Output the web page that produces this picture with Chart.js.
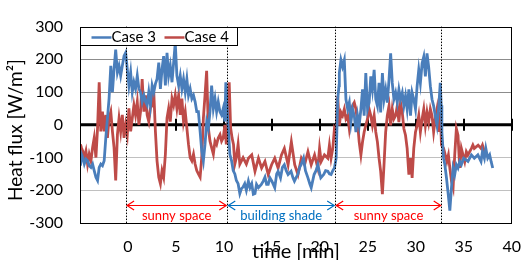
<!DOCTYPE html>
<html><head><meta charset="utf-8">
<script src="https://cdn.jsdelivr.net/npm/chart.js@4"></script>
<style>html,body{margin:0;padding:0;background:#fff}#c{display:block}</style>
</head><body>
<canvas id="c" width="527" height="260"></canvas>
<script>
const case3Time = [-4.95,-4.85,-4.72,-4.55,-4.38,-4.21,-4.04,-3.86,-3.69,-3.52,-3.34,-3.17,-3.0,-2.83,-2.66,-2.48,-2.31,-2.14,-1.97,-1.79,-1.62,-1.45,-1.28,-1.10,-0.93,-0.76,-0.59,-0.41,-0.24,-0.07,0.10,0.28,0.45,0.62,0.79,0.97,1.14,1.31,1.48,1.66,1.83,2.0,2.17,2.34,2.52,2.69,2.86,3.03,3.21,3.38,3.55,3.72,3.90,4.07,4.24,4.41,4.59,4.76,4.93,5.10,5.28,5.45,5.62,5.79,5.97,6.14,6.31,6.48,6.66,6.83,7.0,7.17,7.34,7.52,7.69,7.86,8.03,8.21,8.38,8.55,8.72,8.90,9.07,9.24,9.41,9.59,9.76,9.93,10.1,10.2,10.35,10.5,10.62,10.8,10.97,11.14,11.3,11.48,11.66,11.83,12.0,12.17,12.34,12.55,12.72,12.9,13.07,13.24,13.4,13.6,13.9,14.1,14.28,14.45,14.62,14.8,15.0,15.3,15.5,15.65,15.9,16.1,16.3,16.5,16.69,17.0,17.2,17.35,17.55,17.7,17.9,18.05,18.3,18.5,18.76,18.95,19.1,19.4,19.6,19.79,20.0,20.1,20.4,20.6,20.83,21.0,21.17,21.35,21.52,21.7,21.86,22.0,22.03,22.2,22.37,22.55,22.72,22.9,23.07,23.24,23.41,23.59,23.76,23.93,24.1,24.28,24.45,24.62,24.79,24.97,25.14,25.31,25.48,25.66,25.83,26.0,26.17,26.34,26.52,26.69,26.86,27.03,27.21,27.38,27.55,27.72,27.9,28.07,28.24,28.41,28.59,28.76,28.93,29.1,29.28,29.45,29.62,29.79,29.97,30.14,30.31,30.48,30.66,30.83,31.0,31.17,31.34,31.52,31.69,31.86,32.03,32.21,32.38,32.55,32.65,32.72,32.9,33.03,33.2,33.38,33.55,33.72,33.89,34.06,34.23,34.4,34.58,34.75,35.0,35.44,35.8,36.1,36.47,36.8,36.95,37.15,37.3,37.5,37.7,37.85,38.02];
const case3Flux = [-125,-90,-100,-120,-105,-110,-125,-130,-120,-140,-160,-170,-130,-120,-125,-110,-40,20,80,180,100,170,230,160,180,150,180,210,220,170,120,160,100,130,110,150,110,100,70,90,70,60,100,60,120,100,125,140,190,110,170,210,120,220,150,180,130,190,250,150,120,150,110,140,100,140,90,110,80,90,70,40,40,-20,-80,-110,-60,10,-10,40,120,50,80,40,70,40,30,50,10,130,40,-30,-90,-110,-140,-150,-170,-180,-210,-195,-190,-180,-200,-172,-192,-180,-212,-210,-182,-192,-182,-172,-160,-182,-182,-162,-172,-192,-150,-142,-162,-130,-122,-140,-152,-142,-162,-172,-160,-152,-130,-122,-102,-140,-162,-180,-192,-152,-140,-122,-150,-162,-152,-140,-142,-150,-152,-140,-132,-102,78,120,158,198,178,198,78,48,68,8,48,28,-22,28,-2,48,108,28,158,48,68,148,108,168,78,58,128,38,158,78,108,68,138,218,128,78,98,68,108,78,98,58,88,48,108,28,98,78,48,118,168,128,188,208,148,218,178,118,78,58,28,-2,48,128,60,-22,-102,-122,-162,-212,-262,-192,-132,-152,-122,-132,-112,-122,-102,-112,-92,-102,-92,-112,-82,-102,-72,-102,-92,-112,-132];
const case4Time = [-4.95,-4.85,-4.72,-4.55,-4.38,-4.21,-4.04,-3.86,-3.69,-3.52,-3.34,-3.17,-3.0,-2.83,-2.66,-2.48,-2.31,-2.14,-1.97,-1.79,-1.62,-1.45,-1.28,-1.10,-0.93,-0.76,-0.59,-0.41,-0.24,-0.07,0.10,0.28,0.45,0.62,0.79,0.97,1.14,1.31,1.48,1.66,1.83,2.0,2.17,2.34,2.52,2.69,2.86,3.03,3.21,3.38,3.55,3.72,3.90,4.07,4.24,4.41,4.59,4.76,4.93,5.10,5.28,5.45,5.62,5.79,5.97,6.14,6.31,6.48,6.66,6.83,7.0,7.17,7.34,7.52,7.69,7.86,8.03,8.2,8.38,8.55,8.72,8.9,9.07,9.24,9.41,9.59,9.76,9.93,10.1,10.25,10.4,10.55,10.7,10.85,11.0,11.14,11.3,11.48,11.66,12.0,12.34,12.55,12.9,13.24,13.6,13.93,14.28,14.62,14.97,15.3,15.65,16.0,16.3,16.69,17.03,17.38,17.72,18.07,18.41,18.76,19.1,19.45,19.79,19.97,20.14,20.48,20.83,21.0,21.17,21.35,21.52,21.69,21.86,22.03,22.2,22.37,22.55,22.72,22.9,23.07,23.24,23.41,23.59,23.76,23.93,24.1,24.28,24.45,24.62,24.79,24.97,25.14,25.31,25.48,25.66,25.83,26.0,26.17,26.34,26.52,26.69,26.86,27.03,27.21,27.38,27.55,27.72,27.9,28.07,28.24,28.41,28.59,28.76,28.93,29.1,29.28,29.45,29.62,29.79,29.97,30.14,30.31,30.48,30.66,30.83,31.0,31.17,31.34,31.52,31.69,31.86,32.03,32.21,32.38,32.55,32.68,32.9,33.07,33.24,33.4,33.55,33.72,33.89,34.06,34.23,34.4,34.58,34.75,34.92,35.1,35.27,35.44,35.8,35.95,36.1,36.5,36.8,36.95,37.15];
const case4Flux = [-60,-70,-80,-100,-80,-120,-90,-110,-70,-40,-100,-10,130,-20,40,-20,30,-40,20,40,-20,-70,-170,-30,20,-20,30,-40,0,-30,50,-20,20,60,30,70,0,40,140,40,90,30,10,50,60,100,-20,-110,-160,-180,-140,-160,-90,20,50,10,80,60,90,50,90,30,80,10,40,-10,-60,-100,-110,-90,-120,-140,-150,-160,-100,20,90,165,-10,-50,-70,-90,-50,-60,-40,-30,-50,-40,0,-60,-20,130,-10,-40,-60,-120,-100,-60,-120,-100,-120,-102,-92,-142,-102,-132,-112,-152,-122,-102,-132,-92,-72,-122,-52,-122,-152,-102,-122,-82,-122,-92,-132,-72,-112,-92,-102,-62,-102,-72,-12,-22,88,-2,38,28,48,18,28,-12,28,58,68,48,8,-52,-92,-52,-22,-2,18,48,28,-2,28,-22,-52,-102,-142,-212,-122,-22,28,58,-2,48,18,28,58,8,68,38,-12,-32,-72,-152,-102,-162,-72,-22,-2,28,-22,18,48,-2,38,8,48,28,-22,18,48,-22,40,-62,-72,-92,-112,-92,-132,-172,-192,-92,-12,-32,-132,-72,-92,-112,-82,-92,-72,-62,-72,-62,-72,-62,-82];
const seriesNames = ['Case 3', 'Case 4'];
const seriesColors = ['#4a7ebb', '#be4b48'];
const xTickValues = [0, 5, 10, 15, 20, 25, 30, 35, 40];
const yTickValues = [-300, -200, -100, 0, 100, 200, 300];
const phaseBounds = [-0.25, 10.3, 21.55, 32.65];
const phaseLabels = ['sunny space', 'building shade', 'sunny space'];
const phaseColors = ['#ff0000', '#0070c0', '#ff0000'];
const phaseArrowLevel = -245;
const yTitle = 'Heat flux [W/m²]';
const xTitle = 'time [min]';

const FONT = 'Lato, "Open Sans", sans-serif';
const toPts = (ts, vs) => ts.map((t, i) => ({x: t, y: vs[i]}));

const overlay = {
  id: 'overlay',
  beforeDatasetsDraw(chart) {
    const {ctx, chartArea: a, scales: {x, y}} = chart;
    const y0 = y.getPixelForValue(0);
    ctx.save();
    ctx.strokeStyle = '#000';
    ctx.lineWidth = 3;
    ctx.beginPath(); ctx.moveTo(a.left, y0); ctx.lineTo(a.right, y0); ctx.stroke();
    ctx.lineWidth = 2;
    xTickValues.forEach(v => {
      const px = Math.round(x.getPixelForValue(v));
      ctx.beginPath(); ctx.moveTo(px, y0 - 6); ctx.lineTo(px, y0 + 6); ctx.stroke();
    });
    ctx.restore();
  },
  afterDatasetsDraw(chart) {
    const {ctx, chartArea: a, scales: {x, y}} = chart;
    ctx.save();
    ctx.strokeStyle = '#000';
    ctx.lineWidth = 1;
    ctx.setLineDash([1.5, 1.5]);
    phaseBounds.forEach(t => {
      const px = Math.round(x.getPixelForValue(t)) + 0.5;
      ctx.beginPath(); ctx.moveTo(px, a.top); ctx.lineTo(px, a.bottom); ctx.stroke();
    });
    ctx.setLineDash([]);
    const ay = Math.round(y.getPixelForValue(phaseArrowLevel)) + 0.5;
    for (let i = 0; i < phaseLabels.length; i++) {
      const x1 = x.getPixelForValue(phaseBounds[i]) + 1.5;
      const x2 = x.getPixelForValue(phaseBounds[i + 1]) - 0.5;
      ctx.strokeStyle = phaseColors[i];
      ctx.lineWidth = 1.2;
      ctx.beginPath();
      ctx.moveTo(x1, ay); ctx.lineTo(x2, ay);
      ctx.moveTo(x1 + 7, ay - 4.5); ctx.lineTo(x1, ay); ctx.lineTo(x1 + 7, ay + 4.5);
      ctx.moveTo(x2 - 7, ay - 4.5); ctx.lineTo(x2, ay); ctx.lineTo(x2 - 7, ay + 4.5);
      ctx.stroke();
      ctx.fillStyle = phaseColors[i];
      ctx.font = '13px ' + FONT;
      ctx.textAlign = 'center';
      ctx.textBaseline = 'middle';
      ctx.fillText(phaseLabels[i], (x1 + x2) / 2, ay + 10);
    }
    ctx.strokeStyle = '#000';
    ctx.lineWidth = 1;
    ctx.strokeRect(Math.round(a.left) + 0.5, Math.round(a.top) + 0.5, Math.round(a.right - a.left) - 1, Math.round(a.bottom - a.top));
    const lx = Math.round(a.left) + 0.5, ly = Math.round(a.top) + 0.5;
    ctx.fillStyle = '#fff';
    ctx.fillRect(lx, ly, 157, 18);
    ctx.strokeRect(lx, ly, 157, 18);
    ctx.font = '15px ' + FONT;
    ctx.textAlign = 'left';
    ctx.textBaseline = 'middle';
    const starts = [lx + 11, lx + 84];
    seriesNames.forEach((n, i) => {
      ctx.strokeStyle = seriesColors[i];
      ctx.lineWidth = 2.5;
      ctx.beginPath(); ctx.moveTo(starts[i], ly + 10); ctx.lineTo(starts[i] + 20, ly + 10); ctx.stroke();
      ctx.fillStyle = '#000';
      ctx.fillText(n, starts[i] + 20, ly + 10);
    });
    ctx.restore();
  },
  afterDraw(chart) {
    const {ctx, chartArea: a} = chart;
    ctx.save();
    ctx.fillStyle = '#000';
    ctx.textAlign = 'center';
    ctx.textBaseline = 'middle';
    ctx.font = '20px ' + FONT;
    ctx.fillText(xTitle, (a.left + a.right) / 2, 252);
    ctx.translate(16, 130);
    ctx.rotate(-Math.PI / 2);
    ctx.font = '19px ' + FONT;
    ctx.fillText(yTitle, 0, 0);
    ctx.restore();
  }
};

new Chart(document.getElementById('c'), {
  type: 'line',
  data: {
    datasets: [
      {label: seriesNames[0], data: toPts(case3Time, case3Flux), borderColor: seriesColors[0], borderWidth: 2.8, pointRadius: 0, tension: 0, fill: false},
      {label: seriesNames[1], data: toPts(case4Time, case4Flux), borderColor: seriesColors[1], borderWidth: 2.8, pointRadius: 0, tension: 0, fill: false}
    ]
  },
  options: {
    responsive: false,
    animation: false,
    devicePixelRatio: 1,
    layout: {padding: {top: 23, right: 12, left: 0, bottom: 0}},
    plugins: {legend: {display: false}, tooltip: {enabled: false}},
    scales: {
      x: {
        type: 'linear', min: -5, max: 40,
        afterFit: s => { s.height = 37; },
        afterBuildTicks: s => { s.ticks = [-5].concat(xTickValues).map(v => ({value: v})); },
        grid: {display: false},
        border: {display: false},
        ticks: {
          padding: 6, color: '#000', font: {family: FONT, size: 16},
          maxRotation: 0, autoSkip: false,
          callback: v => (v < 0 ? '' : String(v))
        }
      },
      y: {
        min: -300, max: 300,
        afterFit: s => { s.width = 80; },
        afterBuildTicks: s => { s.ticks = yTickValues.map(v => ({value: v})); },
        border: {display: false},
        grid: {
          drawTicks: false,
          color: c => (c.tick.value > 0 && c.tick.value < 300 ? '#8c8c8c' : (c.tick.value < 0 && c.tick.value > -300 ? '#c0c0c0' : 'rgba(0,0,0,0)')),
          lineWidth: 1
        },
        ticks: {padding: 17, color: '#000', font: {family: FONT, size: 16}}
      }
    }
  },
  plugins: [overlay]
});
</script>
</body></html>
